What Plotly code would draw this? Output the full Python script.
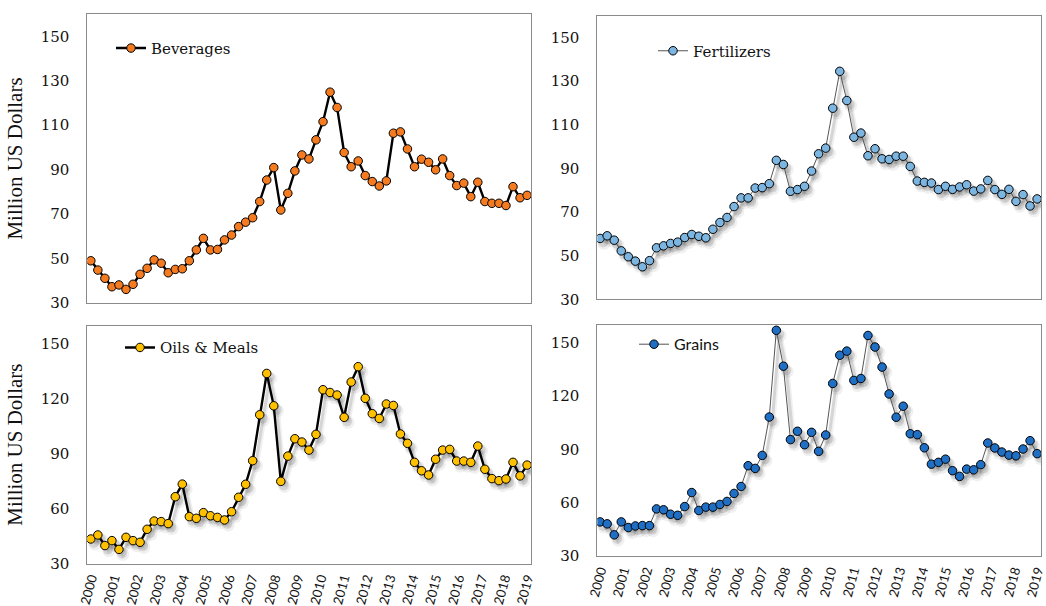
import numpy as np
import plotly.graph_objects as go

years = [str(y) for y in range(2000, 2020)]

beverages = [48.9, 44.7, 41.0, 37.2, 38.0, 36.0, 38.3, 42.8, 45.5, 49.3, 47.8, 43.5, 45.0, 45.3, 48.9, 53.8,
             59.0, 53.8, 54.0, 58.3, 60.5, 64.3, 66.3, 68.3, 75.6, 85.3, 90.9, 71.8, 79.3, 89.4, 96.6, 94.8,
             103.4, 111.6, 124.9, 118.0, 97.7, 91.3, 93.9, 87.3, 84.6, 82.6, 84.9, 106.4, 107.0, 99.3, 91.3, 94.7,
             93.3, 89.9, 94.8, 87.3, 82.8, 83.9, 77.8, 84.3, 75.6, 74.8, 74.8, 73.8, 82.3, 77.3, 78.4]

fertilizers = [57.9, 59.1, 57.1, 52.2, 49.5, 47.5, 44.9, 47.7, 53.6, 54.5, 55.6, 56.2, 58.3, 59.7, 58.9, 58.2,
               62.1, 65.2, 67.5, 72.5, 76.5, 76.5, 81.0, 81.2, 83.0, 93.7, 91.8, 79.5, 80.3, 81.8, 88.8, 96.7,
               99.3, 117.6, 134.5, 121.1, 104.3, 106.2, 95.8, 99.0, 94.4, 94.1, 95.6, 95.6, 90.9, 84.2, 83.6, 83.3,
               80.3, 81.8, 80.4, 81.5, 82.5, 79.6, 80.6, 84.5, 80.3, 78.1, 80.4, 74.9, 78.0, 72.8, 76.0]

oils_meals = [43.4, 45.6, 39.8, 42.5, 37.7, 44.3, 42.5, 41.6, 48.7, 53.2, 52.9, 51.8, 66.5, 73.4, 55.6, 54.7,
              57.8, 56.1, 55.2, 53.8, 58.3, 66.2, 73.3, 86.2, 111.3, 133.9, 116.2, 74.9, 88.7, 98.2, 96.4, 92.0,
              100.6, 125.0, 123.5, 122.1, 109.9, 129.2, 137.6, 120.3, 111.9, 109.3, 117.2, 116.4, 100.8, 95.7, 85.3, 80.7,
              78.4, 87.0, 92.0, 92.4, 86.0, 86.0, 85.3, 94.2, 81.5, 76.4, 75.3, 76.2, 85.3, 77.9, 83.8]

grains = [49.2, 48.1, 41.9, 49.2, 46.0, 46.9, 47.1, 47.1, 56.5, 56.0, 53.5, 52.9, 57.8, 65.7, 55.6, 57.5,
          57.5, 59.0, 60.7, 65.2, 69.1, 80.8, 79.3, 86.6, 108.2, 157.0, 136.8, 95.5, 100.2, 92.6, 99.6, 88.9,
          98.1, 127.1, 143.0, 145.3, 128.8, 129.9, 154.1, 147.6, 136.3, 121.2, 108.1, 114.3, 98.8, 98.3, 90.9, 81.7,
          82.7, 84.5, 78.0, 74.8, 78.9, 78.5, 81.4, 93.6, 90.8, 88.5, 86.8, 86.4, 90.2, 94.9, 87.6]

n = len(beverages)
xpos = np.arange(n)
tickpos = np.linspace(0, n - 1, len(years))

SERIF = "DejaVu Serif"
TSERIF = "Liberation Serif"
SANS = "Lato"

fig = go.Figure()

panels = [
    (beverages, "Beverages", "#F47B20", "#000000", 2.4, "", "legend", None),
    (fertilizers, "Fertilizers", "#7DB5E1", "#555555", 1.0, "2", "legend2", (0.43, -1.8)),
    (oils_meals, "Oils & Meals", "#FFC000", "#000000", 2.4, "3", "legend3", (0.43, -2.2)),
    (grains, "Grains", "#1F6FC5", "#555555", 1.0, "4", "legend4", (0.43, -2.3)),
]

for vals, name, fill, lcol, lw, ax, leg, shadow in panels:
    xa = "x" + ax
    ya = "y" + ax
    if shadow is not None:
        sx, sy = shadow
        for size, width, alpha, k in [(13, 5, 0.06, 1.25), (10, 3, 0.11, 1.0)]:
            fig.add_trace(go.Scatter(
                x=xpos + sx * k, y=np.array(vals) + sy * k, mode="lines+markers",
                line=dict(color=f"rgba(0,0,0,{alpha})", width=width),
                marker=dict(size=size, color=f"rgba(0,0,0,{alpha})", line=dict(width=0)),
                xaxis=xa, yaxis=ya, showlegend=False, hoverinfo="skip"))
    fig.add_trace(go.Scatter(
        x=xpos, y=vals, mode="lines+markers", name=name,
        line=dict(color=lcol, width=lw),
        marker=dict(size=8.5, color=fill, line=dict(color="#000000", width=1)),
        xaxis=xa, yaxis=ya, legend=leg))

W, H = 1046, 606
def dx(a, b):
    return [a / W, b / W]
def dy(top, bottom):
    return [1 - bottom / H, 1 - top / H]

axis_common = dict(showline=True, mirror=True, linecolor="#8a8a8a", linewidth=1,
                   showgrid=False, zeroline=False, automargin=False)

yt = dict(tickfont=dict(family=SERIF, size=15, color="#111111"), ticks="", ticklabelstandoff=14)
xt = dict(tickangle=-75, ticks="", ticklabelstandoff=1, ticklabeloverflow="allow",
          tickfont=dict(family=SANS, size=13, color="#111111"))
ytitle = dict(text="Million US Dollars", font=dict(family=TSERIF, size=21, color="#111111"), standoff=12)

layout = dict(
    width=W, height=H,
    margin=dict(l=0, r=0, t=0, b=0),
    paper_bgcolor="white", plot_bgcolor="white",
    xaxis=dict(domain=dx(87.3, 531.3), range=[-0.5, 62.6], showticklabels=False, ticks="",
               tickvals=tickpos, anchor="y", **axis_common),
    yaxis=dict(domain=dy(14.3, 302.7), range=[30, 160], tickvals=[30, 50, 70, 90, 110, 130, 150],
               anchor="x", title=ytitle, **yt, **axis_common),
    xaxis2=dict(domain=dx(597.3, 1041), range=[-0.4, 62.55], showticklabels=False, ticks="",
                tickvals=tickpos, anchor="y2", **axis_common),
    yaxis2=dict(domain=dy(15.7, 299.3), range=[30, 160], tickvals=[30, 50, 70, 90, 110, 130, 150],
                anchor="x2", **yt, **axis_common),
    xaxis3=dict(domain=dx(87.3, 531.3), range=[-0.5, 62.6], tickvals=tickpos, ticktext=years,
                anchor="y3", **xt, **axis_common),
    yaxis3=dict(domain=dy(325.7, 563.5), range=[30, 160], tickvals=[30, 60, 90, 120, 150],
                anchor="x3", title=ytitle, **yt, **axis_common),
    xaxis4=dict(domain=dx(597.3, 1041), range=[-0.4, 62.55], tickvals=tickpos, ticktext=years,
                anchor="y4", **xt, **axis_common),
    yaxis4=dict(domain=dy(325, 556), range=[30, 160], tickvals=[30, 60, 90, 120, 150],
                anchor="x4", **yt, **axis_common),
)

def leg(x, y, family, size):
    return dict(x=x / W, y=1 - y / H, xanchor="left", yanchor="middle", bgcolor="rgba(0,0,0,0)",
                borderwidth=0, font=dict(family=family, size=size, color="#111111"), tracegroupgap=0)

layout["legend"] = leg(111, 48.3, SERIF, 15)
layout["legend2"] = leg(653, 51, SERIF, 15)
layout["legend3"] = leg(120, 347.7, SERIF, 15)
layout["legend4"] = leg(634, 344.3, SANS, 16)

fig.update_layout(**layout)
fig.write_html("out.html")
